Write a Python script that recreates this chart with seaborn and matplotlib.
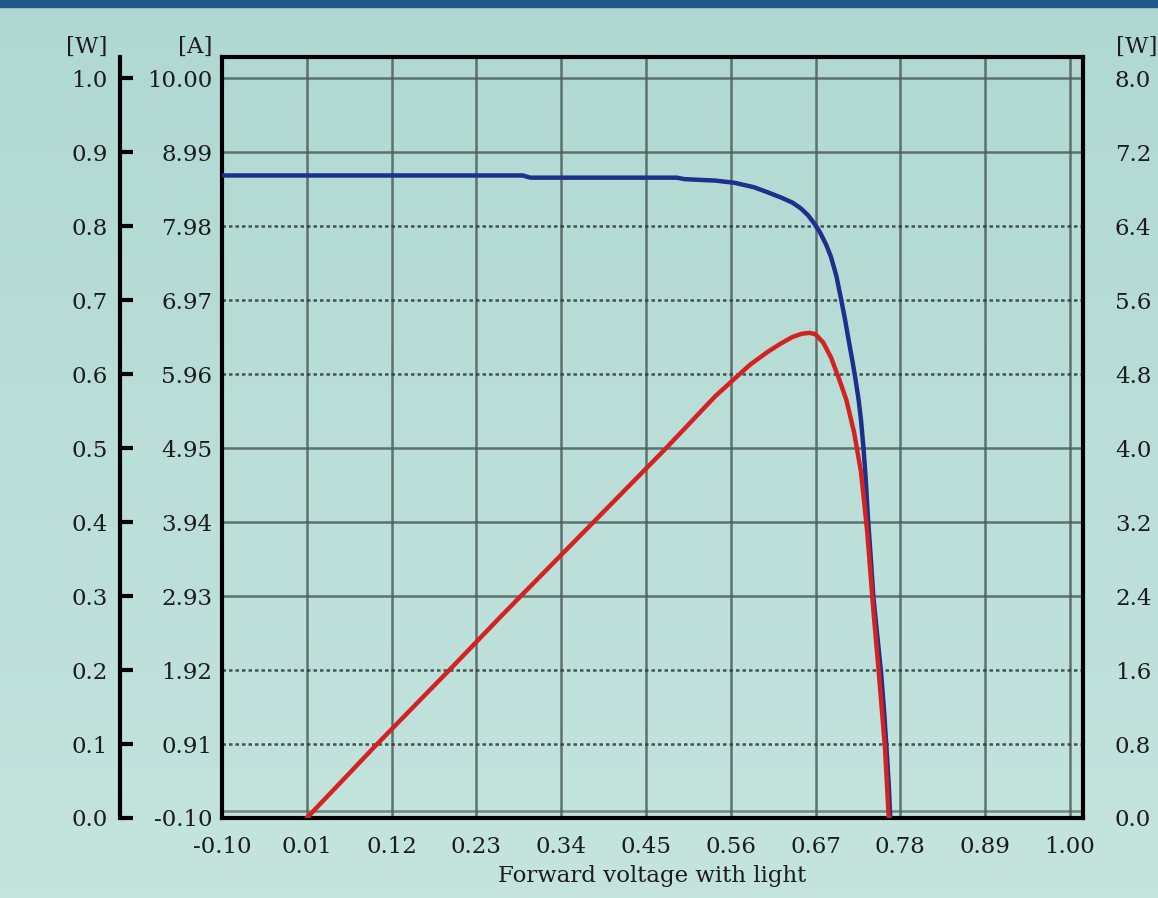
import numpy as np
import matplotlib
matplotlib.use("Agg")
import matplotlib.pyplot as plt
import seaborn as sns

# ------------------------
# data
# ------------------------
volt_i = [-0.10, 0.10, 0.29, 0.30, 0.49, 0.50, 0.54, 0.565, 0.59, 0.608, 0.625,
          0.640, 0.651, 0.660, 0.668, 0.676, 0.684, 0.690, 0.697, 0.703, 0.708,
          0.713, 0.718, 0.722, 0.726, 0.729, 0.732, 0.735, 0.738, 0.742, 0.745,
          0.750, 0.755, 0.759, 0.762, 0.765, 0.767]
current = [8.67, 8.67, 8.67, 8.64, 8.64, 8.62, 8.60, 8.57, 8.51, 8.44, 8.37,
           8.30, 8.22, 8.13, 8.02, 7.89, 7.72, 7.56, 7.30, 6.99, 6.72,
           6.42, 6.13, 5.88, 5.60, 5.33, 4.98, 4.55, 4.00, 3.40, 2.92,
           2.40, 1.89, 1.35, 0.87, 0.35, -0.10]

volt_p = [0.01, 0.099, 0.195, 0.263, 0.474, 0.54, 0.565, 0.585, 0.608, 0.625, 0.640,
          0.652, 0.662, 0.670, 0.680, 0.690, 0.700, 0.710, 0.720, 0.729, 0.737,
          0.745, 0.752, 0.760, 0.765]
power = [0.0, 0.78, 1.60, 2.19, 3.98, 4.56, 4.75, 4.90, 5.04, 5.13, 5.20,
         5.235, 5.245, 5.23, 5.14, 4.98, 4.76, 4.52, 4.17, 3.74, 3.10,
         2.25, 1.58, 0.77, 0.0]

x_ticks = [-0.10, 0.01, 0.12, 0.23, 0.34, 0.45, 0.56, 0.67, 0.78, 0.89, 1.00]
a_ticks = [-0.10, 0.91, 1.92, 2.93, 3.94, 4.95, 5.96, 6.97, 7.98, 8.99, 10.00]
w_left_ticks = [0.0, 0.1, 0.2, 0.3, 0.4, 0.5, 0.6, 0.7, 0.8, 0.9, 1.0]
w_right_ticks = [0.0, 0.8, 1.6, 2.4, 3.2, 4.0, 4.8, 5.6, 6.4, 7.2, 8.0]
dotted_rows = [0.91, 1.92, 5.96, 6.97, 7.98]

# ------------------------
# style
# ------------------------
sns.set_style("white")
plt.rcParams['font.family'] = ['DejaVu Serif']
FS = 16.5
INK = "#1c1c1c"
GRID = "#4d5f5a"

fig = plt.figure(figsize=(11.58, 8.98), dpi=100)

# background gradient + top strip
bg = fig.add_axes([0, 0, 1, 1], zorder=-10)
grad = np.linspace(0, 1, 256).reshape(-1, 1)
cmap = matplotlib.colors.LinearSegmentedColormap.from_list("bg", ["#b0d8d2", "#c5e4de"])
bg.imshow(grad, aspect="auto", cmap=cmap, extent=[0, 1, 0, 1], origin="upper")
bg.add_patch(plt.Rectangle((0, 1 - 7 / 898), 1, 7 / 898, color="#1f5a8c", transform=bg.transAxes))
bg.set_axis_off()

ax = fig.add_axes([222 / 1158, 1 - 818 / 898, 861 / 1158, 761 / 898])
ax.patch.set_alpha(0)

y_lo, y_hi = -0.10, 10.287
ax.set_xlim(-0.096, 1.017)
ax.set_ylim(y_lo, y_hi)

sns.lineplot(x=volt_i, y=current, ax=ax, color="#1f2f8c", lw=3.2, estimator=None, zorder=4)

ax.set_xticks(x_ticks)
ax.set_xticklabels([f"{v:.2f}" for v in x_ticks])
ax.set_yticks(a_ticks)
ax.set_yticklabels([f"{v:.2f}" for v in a_ticks])
ax.tick_params(axis="both", length=0, labelsize=FS, colors=INK)
ax.tick_params(axis="x", pad=13)
ax.tick_params(axis="y", pad=7)
ax.grid(True, color=GRID, lw=1.8, alpha=0.85)
for v, gl in zip(a_ticks, ax.get_ygridlines()):
    if v in dotted_rows:
        gl.set_linestyle((0, (1.4, 1.2)))
        gl.set_color("#2e3a37")
ax.axhline(0.0, color=GRID, lw=1.8, alpha=0.7, zorder=1)
for s in ax.spines.values():
    s.set_color("black")
    s.set_linewidth(3)
ax.set_xlabel("Forward voltage with light", fontsize=FS, color=INK, labelpad=5)
ax.set_ylabel("")

# right power axis, red curve is drawn on it
ax_p = ax.twinx()
w_hi = (y_hi - y_lo) / 10.1
ax_p.set_ylim(0, 8 * w_hi)
sns.lineplot(x=volt_p, y=power, ax=ax_p, color="#d42222", lw=3.2, estimator=None, zorder=5)
ax_p.set_yticks(w_right_ticks)
ax_p.set_yticklabels([f"{v:.1f}" for v in w_right_ticks])
ax_p.tick_params(axis="y", length=0, pad=23, labelsize=FS, colors=INK)
for s in ax_p.spines.values():
    s.set_visible(False)
ax_p.set_ylabel("")

# far left watt axis
ax_w = ax.twinx()
ax_w.set_ylim(0, w_hi)
ax_w.yaxis.set_ticks_position("left")
ax_w.yaxis.set_label_position("left")
ax_w.spines["left"].set_position(("axes", -102 / 861))
ax_w.spines["left"].set_linewidth(3)
ax_w.spines["left"].set_color("black")
for k in ["right", "top", "bottom"]:
    ax_w.spines[k].set_visible(False)
ax_w.set_yticks(w_left_ticks)
ax_w.set_yticklabels([f"{v:.1f}" for v in w_left_ticks])
ax_w.tick_params(axis="y", direction="in", length=9, width=3, pad=9, labelsize=FS, colors=INK)
ax_w.tick_params(axis="y", color="black")

# unit labels
fig.text(108 / 1158, 1 - 47 / 898, "[W]", ha="right", va="center", fontsize=FS, color=INK)
fig.text(212 / 1158, 1 - 47 / 898, "[A]", ha="right", va="center", fontsize=FS, color=INK)
fig.text(1116 / 1158, 1 - 47 / 898, "[W]", ha="left", va="center", fontsize=FS, color=INK)

fig.savefig("out.png", dpi=100)
